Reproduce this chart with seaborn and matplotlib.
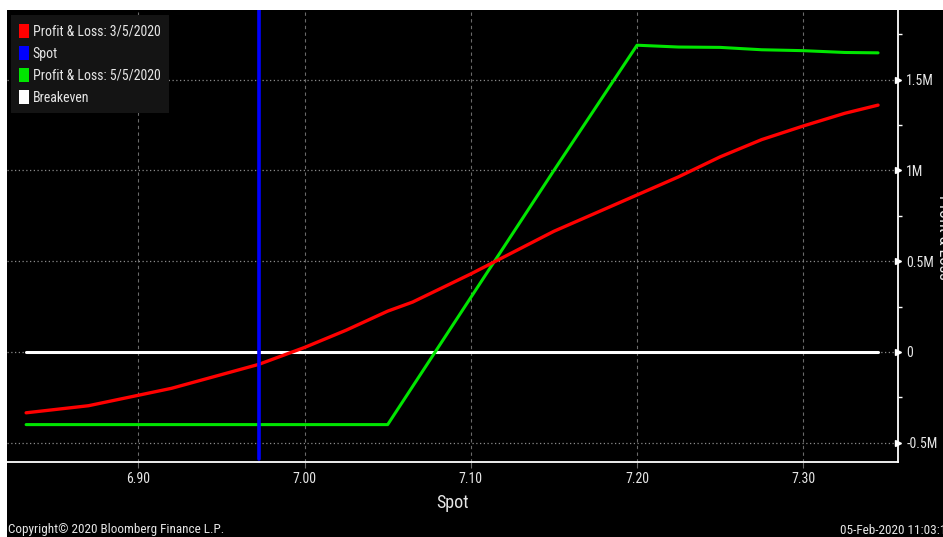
import matplotlib
matplotlib.use("Agg")
import matplotlib.pyplot as plt
from matplotlib.patches import Patch, Rectangle
from matplotlib.ticker import FixedLocator, FuncFormatter
from matplotlib import font_manager
import seaborn as sns
import pandas as pd

# values (P&L in millions)
spot_value = 6.9725

pnl_mar_x = [6.8325, 6.87, 6.92, 6.9725, 7.0, 7.025, 7.05, 7.065, 7.1, 7.15,
             7.2, 7.225, 7.25, 7.275, 7.3, 7.325, 7.345]
pnl_mar_y = [-0.335, -0.296, -0.20, -0.068, 0.025, 0.12, 0.225, 0.275, 0.43, 0.665,
             0.865, 0.965, 1.075, 1.17, 1.245, 1.315, 1.36]

pnl_may_x = [6.8325, 7.05, 7.15, 7.2, 7.225, 7.25, 7.275, 7.3, 7.325, 7.345]
pnl_may_y = [-0.40, -0.40, 1.0, 1.69, 1.68, 1.678, 1.665, 1.66, 1.65, 1.648]

breakeven_x = [6.8325, 7.345]
breakeven_y = [0.0, 0.0]

x_ticks = [6.90, 7.00, 7.10, 7.20, 7.30]
y_ticks = [-0.5, 0, 0.5, 1.0, 1.5]
y_minor = [-0.25, 0.25, 0.75, 1.25, 1.75]
legend_labels = ["Profit & Loss: 3/5/2020", "Spot", "Profit & Loss: 5/5/2020", "Breakeven"]

RED = "#ff0000"
BLUE = "#0000ff"
GREEN = "#00e600"
WHITE = "#ffffff"
TXT = "#e6e6e6"

sns.set_theme(style="dark")

# pick a condensed face if one is installed
names = {f.name for f in font_manager.fontManager.ttflist}
condensed = [n for n in ["Liberation Sans Narrow", "DejaVu Sans Condensed", "Roboto Condensed",
                         "Open Sans Condensed"] if n in names]
plt.rcParams["font.family"] = condensed + ["DejaVu Sans"]
plt.rcParams["font.stretch"] = "condensed"
plt.rcParams["axes.unicode_minus"] = False

fig = plt.figure(figsize=(9.43, 5.37), dpi=100, facecolor="black")
ax = fig.add_axes([7 / 943, 1 - 462 / 537, (898 - 7) / 943, (462 - 10) / 537])
ax.set_facecolor("black")

# white screenshot border on top and left
fig.patches.append(Rectangle((0, 0), 7 / 943, 1, transform=fig.transFigure,
                             facecolor="white", edgecolor="none", zorder=10))
fig.patches.append(Rectangle((0, 1 - 10 / 537), 1, 10 / 537, transform=fig.transFigure,
                             facecolor="white", edgecolor="none", zorder=10))

mar = pd.DataFrame({"x": pnl_mar_x, "y": pnl_mar_y})
may = pd.DataFrame({"x": pnl_may_x, "y": pnl_may_y})
be = pd.DataFrame({"x": breakeven_x, "y": breakeven_y})

sns.lineplot(data=be, x="x", y="y", color=WHITE, linewidth=2.2, ax=ax, zorder=3)
sns.lineplot(data=may, x="x", y="y", color=GREEN, linewidth=2.2, ax=ax, zorder=4)
sns.lineplot(data=mar, x="x", y="y", color=RED, linewidth=2.4, ax=ax, zorder=5)
ax.axvline(spot_value, ymin=0.006, ymax=1, color=BLUE, linewidth=2.6, zorder=6)

ax.set_xlim(6.821, 7.357)
ax.set_ylim(-0.606, 1.884)

# grid
ax.xaxis.set_major_locator(FixedLocator(x_ticks))
ax.yaxis.set_major_locator(FixedLocator(y_ticks))
ax.yaxis.set_minor_locator(FixedLocator(y_minor))
ax.grid(False)
for xv in x_ticks:
    ax.axvline(xv, color="#6a6a6a", linewidth=0.8, linestyle=(0, (3, 3)), zorder=1)
for yv in y_ticks:
    ax.axhline(yv, color="#8a8a8a", linewidth=0.9, linestyle=(0, (1, 2)), zorder=1)

# spines
for side in ["top", "left"]:
    ax.spines[side].set_visible(False)
for side in ["bottom", "right"]:
    ax.spines[side].set_visible(True)
    ax.spines[side].set_color(WHITE)
    ax.spines[side].set_linewidth(1.3)

ax.yaxis.tick_right()
ax.yaxis.set_label_position("right")


def fmt_m(v, pos):
    if abs(v) < 1e-9:
        return "0"
    return f"{v:g}M"


ax.yaxis.set_major_formatter(FuncFormatter(fmt_m))
ax.xaxis.set_major_formatter(FuncFormatter(lambda v, p: f"{v:.2f}"))
ax.tick_params(axis="x", colors="#6a6a6a", labelcolor=TXT, length=4, width=0.8,
               direction="out", labelsize=10, pad=3, bottom=True)
ax.tick_params(axis="y", which="major", length=0, labelcolor=TXT, labelsize=10, pad=6,
               right=True, left=False)
ax.tick_params(axis="y", which="minor", length=3, width=1, color=WHITE, direction="out",
               right=True, left=False)

# small triangles at major y ticks
ax.plot([1.0] * len(y_ticks), y_ticks, linestyle="none", marker=">", markersize=5,
        color=WHITE, transform=ax.get_yaxis_transform(), clip_on=False, zorder=7)

ax.set_xlabel("Spot", color=TXT, fontsize=13, labelpad=6)
ax.set_ylabel("")
fig.text(936 / 943, 1 - 237 / 537, "Profit & Loss", rotation=270, color=TXT, fontsize=12,
         ha="left", va="center")

handles = [Patch(facecolor=c, edgecolor="none") for c in [RED, BLUE, GREEN, WHITE]]
leg = ax.legend(handles, legend_labels, loc="upper left", bbox_to_anchor=(0.004, 0.988),
                borderaxespad=0, frameon=True, fancybox=False, fontsize=10,
                handlelength=0.75, handleheight=1.15, handletextpad=0.25,
                labelspacing=0.55, borderpad=0.6)
leg.get_frame().set_facecolor("#141414")
leg.get_frame().set_edgecolor("none")
leg.get_frame().set_alpha(1)
for t in leg.get_texts():
    t.set_color(TXT)

fig.text(8 / 943, 1 - 530 / 537, "Copyright\u00a9 2020 Bloomberg Finance L.P.", color=TXT,
         fontsize=9.5, ha="left", va="center")
fig.text(840 / 943, 1 - 530 / 537, "05-Feb-2020 11:03:14", color=TXT, fontsize=9.5,
         ha="left", va="center")

fig.savefig("out.png", dpi=100, facecolor="black")
